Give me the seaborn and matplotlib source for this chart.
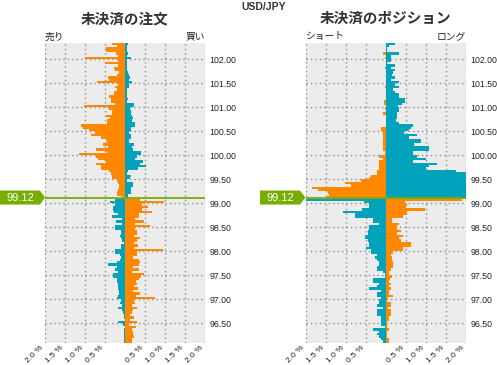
import numpy as np
import pandas as pd
import matplotlib
matplotlib.use("Agg")
import matplotlib.pyplot as plt
import seaborn as sns
from matplotlib.transforms import blended_transform_factory
from matplotlib.patches import Polygon

# ---------------- data ----------------
pair = "USD/JPY"
current_price = 99.12
# bucket lower edges, top (102.30) to bottom (96.10), 0.05 wide
levels = np.round(np.arange(102.30, 96.075, -0.05), 2)

# 未決済の注文 : left side (売り) and right side (買い), in %
orders_left = [
    0.33, 0.20, 0.47, 0.47, 0.22, 0.18, 0.99, 0.18, 0.49, 0.18,
    0.28, 0.24, 0.14, 0.20, 0.42, 0.41, 0.69, 0.18, 0.24, 0.20,
    0.28, 0.28, 0.40, 0.35, 0.35, 0.24, 1.02, 0.40, 0.33, 0.33,
    0.47, 0.37, 0.45, 0.45, 1.10, 1.05, 0.90, 0.75, 0.85, 0.60,
    0.47, 0.45, 0.55, 0.42, 0.72, 0.45, 1.15, 0.72, 0.68, 0.47,
    0.72, 0.60, 0.60, 0.40, 0.35, 0.33, 0.33, 0.20, 0.18, 0.16,
    0.15, 0.18, 0.20, 0.20, 0.08,
    0.25, 0.37, 0.25, 0.30, 0.30, 0.28, 0.18, 0.33, 0.08, 0.22,
    0.08, 0.25, 0.25, 0.10, 0.10, 0.12, 0.10, 0.08, 0.03, 0.10,
    0.10, 0.25, 0.25, 0.12, 0.10, 0.12, 0.20, 0.42, 0.20, 0.25,
    0.18, 0.30, 0.30, 0.20, 0.20, 0.18, 0.18, 0.18, 0.15, 0.15,
    0.18, 0.20, 0.10, 0.12, 0.08, 0.18, 0.08, 0.05, 0.03, 0.03,
    0.01, 0.18, 0.05, 0.01, 0.03, 0.03, 0.03, 0.03, 0.03, 0.03,
]
orders_right = [
    0.07, 0.05, 0.05, 0.04, 0.07, 0.05, 0.14, 0.04, 0.04, 0.04,
    0.04, 0.04, 0.07, 0.10, 0.12, 0.09, 0.17, 0.10, 0.09, 0.05,
    0.06, 0.06, 0.05, 0.08, 0.06, 0.22, 0.22, 0.12, 0.14, 0.16,
    0.17, 0.19, 0.17, 0.25, 0.25, 0.16, 0.14, 0.10, 0.14, 0.14,
    0.09, 0.10, 0.22, 0.17, 0.19, 0.39, 0.39, 0.29, 0.24, 0.44,
    0.37, 0.52, 0.32, 0.07, 0.04, 0.14, 0.12, 0.06, 0.19, 0.19,
    0.14, 0.14, 0.14, 0.07, 0.07,
    0.37, 0.97, 0.42, 0.57, 0.42, 0.67, 0.34, 0.34, 0.24, 0.47,
    0.26, 0.62, 0.26, 0.29, 0.29, 0.22, 0.37, 0.30, 0.22, 0.32,
    0.22, 0.94, 0.29, 0.29, 0.19, 0.34, 0.37, 0.34, 0.19, 0.34,
    0.17, 0.47, 0.39, 0.34, 0.28, 0.29, 0.22, 0.32, 0.19, 0.37,
    0.28, 0.75, 0.22, 0.24, 0.17, 0.29, 0.19, 0.17, 0.12, 0.22,
    0.12, 0.29, 0.09, 0.28, 0.17, 0.19, 0.19, 0.22, 0.17, 0.17,
]

# 未決済のポジション : left side (ショート) and right side (ロング), in %
positions_left = [
    0.00, 0.00, 0.00, 0.00, 0.06, 0.00, 0.03, 0.00, 0.00, 0.00,
    0.03, 0.00, 0.00, 0.00, 0.00, 0.00, 0.00, 0.00, 0.03, 0.00,
    0.00, 0.00, 0.00, 0.00, 0.05, 0.05, 0.00, 0.03, 0.00, 0.07,
    0.00, 0.00, 0.00, 0.00, 0.00, 0.11, 0.11, 0.06, 0.06, 0.06,
    0.06, 0.06, 0.06, 0.06, 0.08, 0.03, 0.03, 0.16, 0.08, 0.16,
    0.16, 0.16, 0.16, 0.21, 0.23, 0.38, 0.42, 0.62, 1.02, 0.87,
    1.85, 1.68, 1.45, 1.42, 1.50,
    2.00, 0.53, 0.41, 0.41, 0.60, 1.06, 0.76, 0.76, 0.31, 0.31,
    0.18, 0.41, 0.41, 0.43, 0.43, 0.51, 0.51, 0.43, 0.41, 0.41,
    0.48, 0.38, 0.38, 0.23, 0.26, 0.23, 0.18, 0.16, 0.23, 0.23,
    0.06, 0.03, 0.03, 0.33, 0.33, 0.16, 0.21, 0.41, 0.13, 0.23,
    0.21, 0.13, 0.16, 0.16, 0.21, 0.08, 0.21, 0.21, 0.21, 0.11,
    0.11, 0.11, 0.13, 0.03, 0.31, 0.18, 0.21, 0.16, 0.11, 0.06,
]
positions_right = [
    0.22, 0.07, 0.04, 0.04, 0.32, 0.13, 0.13, 0.13, 0.04, 0.22,
    0.13, 0.23, 0.18, 0.15, 0.23, 0.13, 0.33, 0.23, 0.32, 0.18,
    0.23, 0.32, 0.33, 0.48, 0.48, 0.40, 0.30, 0.32, 0.33, 0.27,
    0.27, 0.27, 0.25, 0.32, 0.67, 0.63, 0.58, 0.45, 0.79, 0.58,
    0.87, 0.89, 0.70, 1.09, 1.09, 0.67, 0.67, 0.77, 1.00, 0.67,
    1.27, 1.09, 1.00, 1.74, 2.00, 2.00, 2.00, 2.00, 2.00, 2.00,
    2.00, 2.00, 2.00, 2.00, 2.00,
    1.89, 0.48, 0.52, 0.50, 0.97, 0.54, 0.54, 0.43, 0.15, 0.15,
    0.32, 0.27, 0.27, 0.38, 0.28, 0.43, 0.33, 0.38, 0.62, 0.62,
    0.44, 0.44, 0.17, 0.12, 0.15, 0.15, 0.17, 0.17, 0.17, 0.12,
    0.07, 0.08, 0.15, 0.10, 0.07, 0.12, 0.08, 0.12, 0.07, 0.08,
    0.17, 0.05, 0.04, 0.12, 0.12, 0.05, 0.12, 0.12, 0.12, 0.07,
    0.07, 0.04, 0.04, 0.04, 0.07, 0.04, 0.04, 0.03, 0.07, 0.07,
]

panel_titles = ["未決済の注文", "未決済のポジション"]
side_labels = [("売り", "買い"), ("ショート", "ロング")]
price_ticks = [96.5, 97.0, 97.5, 98.0, 98.5, 99.0, 99.5, 100.0, 100.5, 101.0, 101.5, 102.0]
pct_ticks = [-2.0, -1.5, -1.0, -0.5, 0.0, 0.5, 1.0, 1.5, 2.0]
pct_labels = ["2.0 %", "1.5 %", "1.0 %", "0.5 %", "", "0.5 %", "1.0 %", "1.5 %", "2.0 %"]

# ---------------- style ----------------
ORANGE = "#ff8800"
TEAL = "#00a3bb"
GREEN = "#78ad00"
BG = "#ececec"
TXT = "#222222"

sns.set_style("white")
plt.rcParams["font.family"] = ["Liberation Sans", "Noto Sans CJK JP", "DejaVu Sans"]

W, H = 497, 365
fig = plt.figure(figsize=(W / 100, H / 100), dpi=100)

bucket = 0.05
ylo, yhi = 96.10, 102.35
ax_top_px, ax_h_px = 42.5, 300.0
ax_boxes = [(45.0, 160.0), (305.5, 160.5)]


def make_frame(left_vals, right_vals):
    rows = []
    for lvl, lv, rv in zip(levels, left_vals, right_vals):
        above = lvl >= 99.10
        yc = round(lvl + bucket / 2, 3)
        rows.append({"y": yc, "value": -lv, "kind": "orange" if above else "teal"})
        rows.append({"y": yc, "value": rv, "kind": "teal" if above else "orange"})
    return pd.DataFrame(rows)


frames = [make_frame(orders_left, orders_right), make_frame(positions_left, positions_right)]

for k, (df, (xpx, wpx)) in enumerate(zip(frames, ax_boxes)):
    ax = fig.add_axes([xpx / W, (H - ax_top_px - ax_h_px) / H, wpx / W, ax_h_px / H])
    ax.set_facecolor(BG)
    ax.set_axisbelow(True)
    ax.grid(True, color="#8c8c8c", linestyle=(0, (1, 2.2)), linewidth=1.0)
    sns.barplot(data=df, x="value", y="y", hue="kind", orient="y", native_scale=True,
                dodge=False, errorbar=None, width=1.0, saturation=1,
                palette={"orange": ORANGE, "teal": TEAL}, linewidth=0,
                antialiased=False, legend=False, ax=ax)
    ax.set_xlim(-2.0, 2.0)
    ax.set_ylim(ylo, yhi)
    ax.set_xlabel("")
    ax.set_ylabel("")
    for s in ax.spines.values():
        s.set_visible(False)
    ax.set_yticks(price_ticks)
    ax.set_yticklabels([f"{t:.2f}" for t in price_ticks], fontsize=6.3, color=TXT)
    ax.yaxis.tick_right()
    ax.tick_params(axis="y", length=0, pad=3)
    ax.set_xticks(pct_ticks)
    ax.set_xticklabels(pct_labels, rotation=45, ha="right", va="top",
                       rotation_mode="default", fontsize=6, color=TXT)
    ax.tick_params(axis="x", length=0, pad=1)

    # current price line
    ax.axhline(current_price, color=GREEN, lw=1.3, zorder=5)

    # price marker label (arrow box to the left of the axes)
    tr = blended_transform_factory(ax.transAxes, ax.transData)
    box_left = (0.0 - xpx) / wpx if k == 0 else (260.0 - xpx) / wpx
    box_right = box_left + 40.0 / wpx
    tip = 0.0
    hh = 7.0 / 48.0
    poly = Polygon([(box_left, current_price - hh), (box_right, current_price - hh),
                    (tip, current_price), (box_right, current_price + hh),
                    (box_left, current_price + hh)],
                   closed=True, transform=tr, clip_on=False, facecolor=GREEN,
                   edgecolor="none", zorder=6)
    ax.add_patch(poly)
    ax.text((box_left + box_right) / 2, current_price, f"{current_price:.2f}",
            transform=tr, ha="center", va="center", color="white",
            fontsize=8, clip_on=False, zorder=7)

    # titles and side labels
    cx = (xpx + wpx / 2) / W
    fig.text(cx, 1 - 18 / H, panel_titles[k], ha="center", va="center",
             fontsize=10.5, fontweight="bold", color="#333333",
             family=["Noto Sans CJK JP", "DejaVu Sans"])
    fig.text(xpx / W, 1 - 36.5 / H, side_labels[k][0], ha="left", va="center",
             fontsize=7, color=TXT, family=["Noto Sans CJK JP", "DejaVu Sans"])
    fig.text((xpx + wpx) / W, 1 - 36.5 / H, side_labels[k][1], ha="right", va="center",
             fontsize=7, color=TXT, family=["Noto Sans CJK JP", "DejaVu Sans"])

fig.text(264 / W, 1 - 6.5 / H, pair, ha="center", va="center", fontsize=7.5,
         fontweight="bold", color="#333333")

fig.savefig("out.png", dpi=100)
